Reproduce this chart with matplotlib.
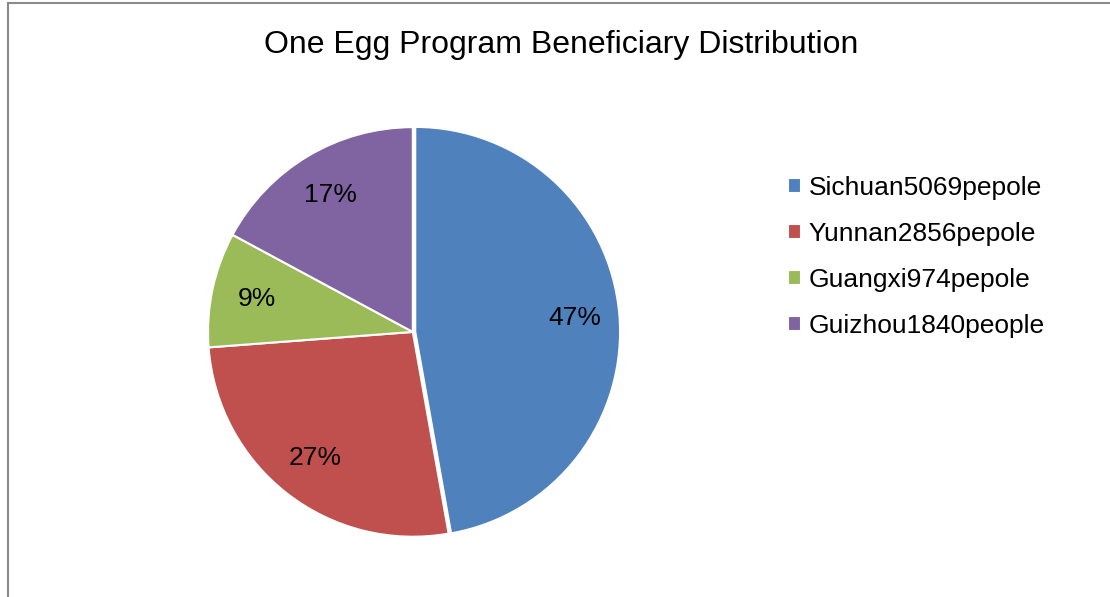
import matplotlib.pyplot as plt
from matplotlib.patches import Rectangle

plt.rcParams['font.family'] = ['Liberation Sans', 'DejaVu Sans']

# data
provinces = ['Sichuan', 'Yunnan', 'Guangxi', 'Guizhou']
people = [5069, 2856, 974, 1840]
legend_labels = ['Sichuan5069pepole', 'Yunnan2856pepole', 'Guangxi974pepole', 'Guizhou1840people']
colors = ['#4F81BD', '#C0504D', '#9BBB59', '#8064A2']

fig = plt.figure(figsize=(11.1, 5.97), dpi=100)

# outer chart frame (partly cropped)
fig.patches.append(Rectangle((8 / 1110, -0.05), 1.2, 1 - 3 / 597 + 0.05, transform=fig.transFigure,
                             fill=False, edgecolor='#8a8a8a', linewidth=1.5))

ax = fig.add_axes([0.1874, 0.1005, 0.369, 0.687])
wedges, texts, autotexts = ax.pie(people, colors=colors, startangle=90, counterclock=False,
                                  explode=[0.012, 0, 0, 0], autopct='%1.0f%%', pctdistance=0.78,
                                  wedgeprops=dict(edgecolor='white', linewidth=1.5),
                                  textprops=dict(fontsize=19, color='black'))
ax.set_xlim(-1.0, 1.0)
ax.set_ylim(-1.0, 1.0)
ax.set_aspect('equal')
for w in wedges:
    w.set_clip_on(False)

fig.text(561 / 1110, 1 - 45 / 597, 'One Egg Program Beneficiary Distribution',
         ha='center', va='center', fontsize=23)

fig.legend(wedges, legend_labels, loc='center left', bbox_to_anchor=(764 / 1110, 1 - 257 / 597),
           frameon=False, fontsize=19, handlelength=0.5, handleheight=0.5, handletextpad=0.3,
           labelspacing=0.83)

fig.savefig('out.png', dpi=100)
